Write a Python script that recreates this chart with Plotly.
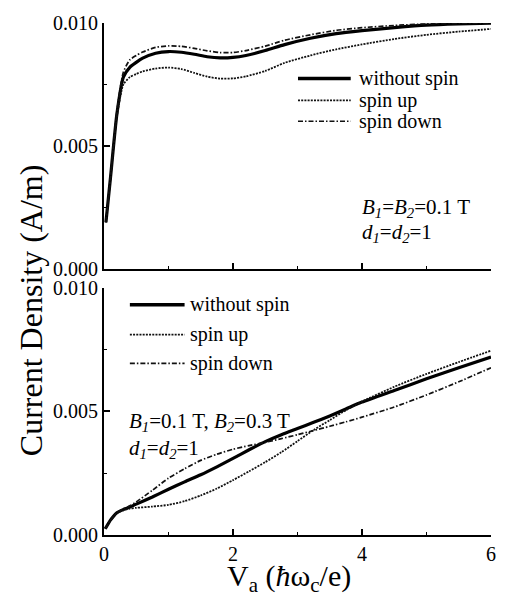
import plotly.graph_objects as go

# ---- data: current density vs applied voltage ----
# upper panel: B1 = B2 = 0.1 T
v_top = [0.03, 0.1, 0.2, 0.3, 0.4, 0.5, 0.6, 0.8, 1.0, 1.2, 1.4, 1.6, 1.8,
         2.0, 2.2, 2.5, 2.8, 3.2, 3.6, 4.0, 4.5, 5.0, 5.5, 6.0]
j_top_nospin = [0.0019, 0.0037, 0.0063, 0.0078, 0.0082, 0.0084, 0.00857, 0.00877,
                0.00884, 0.00881, 0.00873, 0.00863, 0.00858, 0.00860, 0.00868,
                0.00888, 0.00912, 0.00938, 0.00957, 0.00969, 0.00981, 0.00991,
                0.00996, 0.00999]
j_top_up = [0.0019, 0.0037, 0.0062, 0.0075, 0.0078, 0.00793, 0.00803, 0.00815,
            0.00819, 0.00813, 0.00797, 0.00782, 0.00774, 0.00775, 0.00783,
            0.00805, 0.00838, 0.00868, 0.00893, 0.00913, 0.00935, 0.00952,
            0.00965, 0.00976]
j_top_down = [0.0019, 0.0037, 0.0064, 0.0080, 0.0085, 0.00868, 0.00882, 0.00901,
              0.00907, 0.00905, 0.00897, 0.00887, 0.00880, 0.00880, 0.00888,
              0.00906, 0.00930, 0.00952, 0.00970, 0.00981, 0.00990, 0.00996,
              0.00999, 0.01000]

# lower panel: B1 = 0.1 T, B2 = 0.3 T
v_bot = [0.02, 0.1, 0.2, 0.3, 0.4, 0.5, 0.75, 1.0, 1.25, 1.5, 1.75, 2.0, 2.25,
         2.5, 2.75, 3.0, 3.25, 3.5, 3.75, 4.0, 4.5, 5.0, 5.5, 6.0]
j_bot_nospin = [0.00025, 0.0006, 0.0009, 0.00103, 0.00113, 0.00125, 0.00154,
                0.00185, 0.00215, 0.00244, 0.00276, 0.00310, 0.00345, 0.00378,
                0.00406, 0.00431, 0.00456, 0.00482, 0.00510, 0.00538, 0.00585,
                0.00632, 0.00677, 0.00720]
j_bot_up = [0.00025, 0.0006, 0.00088, 0.00100, 0.00107, 0.00110, 0.00115, 0.00122,
            0.00137, 0.00160, 0.00188, 0.00222, 0.00258, 0.00295, 0.00335,
            0.00380, 0.00425, 0.00465, 0.00505, 0.00540, 0.00600, 0.00652,
            0.00700, 0.00746]
j_bot_down = [0.00025, 0.0006, 0.0009, 0.00105, 0.00118, 0.00134, 0.00181, 0.00230,
              0.00268, 0.00302, 0.00327, 0.00347, 0.00362, 0.00375, 0.00390,
              0.00406, 0.00423, 0.00440, 0.00458, 0.00477, 0.00518, 0.00567,
              0.00620, 0.00677]

series_names = ["without spin", "spin up", "spin down"]
y_ticks = [0.0, 0.005, 0.010]
x_ticks = [0, 2, 4, 6]

# ---- styling ----
FONT = "Liberation Serif, Times New Roman, serif"
styles = {
    "without spin": dict(color="black", width=3.2, dash="solid"),
    "spin up": dict(color="#111", width=1.8, dash="2px,1.2px"),
    "spin down": dict(color="#111", width=1.7, dash="5px,2px,1.5px,2px"),
}

W, H = 508, 598
L, R, T, B = 104, 15, 19, 63
plot_w, plot_h = W - L - R, H - T - B


def px_x(px):
    return (px - L) / plot_w


def px_y(py):
    return (H - B - py) / plot_h


fig = go.Figure()
panels = [
    ("x", "y", v_top, [j_top_nospin, j_top_up, j_top_down]),
    ("x2", "y2", v_bot, [j_bot_nospin, j_bot_up, j_bot_down]),
]
for xa, ya, xs, ys in panels:
    for name, vals in zip(series_names, ys):
        fig.add_trace(go.Scatter(
            x=xs, y=vals, mode="lines", name=name, showlegend=False,
            line=dict(shape="spline", smoothing=0.6, **styles[name]),
            xaxis=xa, yaxis=ya,
        ))

axis_common = dict(
    showline=True, linecolor="black", linewidth=2, mirror=False,
    ticks="inside", ticklen=6, tickwidth=1.5, tickcolor="black",
    showgrid=False, zeroline=False,
    tickfont=dict(family=FONT, size=20, color="black"),
)
minor_x = dict(dtick=1, tick0=0, ticks="inside", ticklen=3,
               tickwidth=1.2, tickcolor="black")
minor_y = dict(dtick=0.0025, tick0=0, ticks="inside", ticklen=3,
               tickwidth=1.2, tickcolor="black")

fig.update_layout(
    width=W, height=H,
    margin=dict(l=L, r=R, t=T, b=B, pad=0),
    paper_bgcolor="white", plot_bgcolor="white",
    xaxis=dict(domain=[0, 1], anchor="y", range=[0, 6], tickvals=x_ticks,
               showticklabels=False, minor=minor_x, **axis_common),
    yaxis=dict(domain=[px_y(267), 1], anchor="x", range=[0, 0.010],
               tickvals=y_ticks, tickformat=".3f", minor=minor_y,
               **axis_common),
    xaxis2=dict(domain=[0, 1], anchor="y2", range=[0, 6], tickvals=x_ticks,
                minor=minor_x, **axis_common),
    yaxis2=dict(domain=[0, px_y(286)], anchor="x2", range=[0, 0.010],
                tickvals=y_ticks, tickformat=".3f", minor=minor_y,
                **axis_common),
)

annotations = []
shapes = []


def add_key(x0, x1, xt, rows):
    for name, yrow in zip(series_names, rows):
        st = styles[name]
        w = 3.6 if name == "without spin" else st["width"]
        shapes.append(dict(type="line", xref="paper", yref="paper",
                           x0=px_x(x0), x1=px_x(x1), y0=px_y(yrow), y1=px_y(yrow),
                           line=dict(color=st["color"], width=w, dash=st["dash"])))
        annotations.append(dict(text=name, xref="paper", yref="paper",
                                x=px_x(xt), y=px_y(yrow), xanchor="left",
                                yanchor="middle", showarrow=False,
                                font=dict(family=FONT, size=20, color="black")))


add_key(299, 352, 358, [75, 97, 118])
add_key(130, 185, 188, [303, 333, 362])

param_font = dict(family=FONT, size=21, color="black")
params = [
    ("<i>B</i><sub><i>1</i></sub>=<i>B</i><sub><i>2</i></sub>=0.1 T", 361, 205),
    ("<i>d</i><sub><i>1</i></sub>=<i>d</i><sub><i>2</i></sub>=1", 361, 231),
    ("<i>B</i><sub><i>1</i></sub>=0.1 T, <i>B</i><sub><i>2</i></sub>=0.3 T", 127, 421),
    ("<i>d</i><sub><i>1</i></sub>=<i>d</i><sub><i>2</i></sub>=1", 127, 448),
]
for txt, x, y in params:
    annotations.append(dict(text=txt, xref="paper", yref="paper", x=px_x(x),
                            y=px_y(y), xanchor="left", yanchor="middle",
                            showarrow=False, font=param_font))

# axis titles
annotations.append(dict(
    text="V<sub>a</sub> (<i>ħ</i>ω<sub>c</sub>/e)", xref="paper", yref="paper",
    x=px_x(290), y=px_y(578), xanchor="center", yanchor="middle",
    showarrow=False, font=dict(family=FONT, size=30, color="black")))
annotations.append(dict(
    text="Current Density (A/m)", xref="paper", yref="paper",
    x=px_x(30), y=px_y(308), xanchor="center", yanchor="middle",
    textangle=-90, showarrow=False,
    font=dict(family=FONT, size=32, color="black")))

fig.update_layout(annotations=annotations, shapes=shapes)
fig.write_html("out.html")
